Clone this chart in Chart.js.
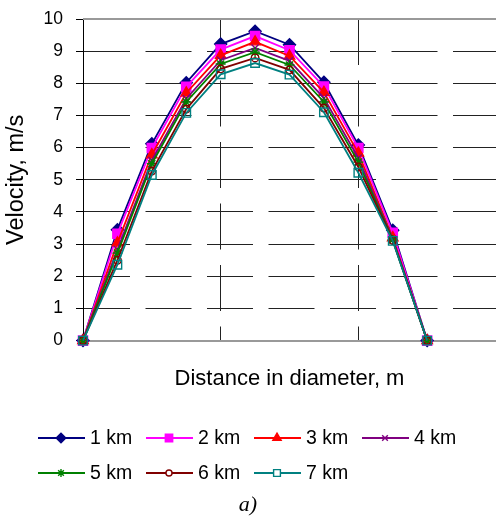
<!DOCTYPE html>
<html>
<head>
<meta charset="utf-8">
<script src="https://cdn.jsdelivr.net/npm/chart.js@4"></script>
<style>
  html, body { margin: 0; padding: 0; background: #fff; }
  #wrap { width: 496px; height: 519px; }
</style>
</head>
<body>
<div id="wrap"><canvas id="velChart" width="496" height="519"></canvas></div>
<script>
// points across the diameter (x axis runs 0..12, no labels)
const distance = [0, 1, 2, 3, 4, 5, 6, 7, 8, 9, 10];
const seriesNames = ['1 km', '2 km', '3 km', '4 km', '5 km', '6 km', '7 km'];

const vel1km = [0, 3.45, 6.12, 8.02, 9.22, 9.62, 9.20, 8.03, 6.08, 3.43, 0];
const vel2km = [0, 3.32, 5.99, 7.89, 9.05, 9.47, 9.03, 7.90, 5.99, 3.35, 0];
const vel3km = [0, 3.04, 5.78, 7.70, 8.87, 9.29, 8.85, 7.72, 5.83, 3.20, 0];
const vel4km = [0, 2.83, 5.60, 7.52, 8.72, 9.10, 8.70, 7.54, 5.68, 3.15, 0];
const vel5km = [0, 2.72, 5.50, 7.42, 8.60, 8.97, 8.57, 7.42, 5.55, 3.13, 0];
const vel6km = [0, 2.50, 5.27, 7.20, 8.45, 8.79, 8.42, 7.23, 5.40, 3.12, 0];
const vel7km = [0, 2.36, 5.15, 7.08, 8.28, 8.63, 8.27, 7.10, 5.22, 3.10, 0];

const allSeries = [vel1km, vel2km, vel3km, vel4km, vel5km, vel6km, vel7km];

// look of each series (Excel style markers)
const looks = [
  { color: '#000080', style: 'rectRot', radius: 6, fill: '#000080' },
  { color: '#FF00FF', style: 'rect', radius: 6.5, fill: '#FF00FF' },
  { color: '#FF0000', style: 'triangle', radius: 6, fill: '#FF0000' },
  { color: '#800080', style: 'crossRot', radius: 5, fill: '#800080' },
  { color: '#008000', style: 'star', radius: 5, fill: '#008000' },
  { color: '#800000', style: 'circle', radius: 3.8, fill: 'transparent' },
  { color: '#008080', style: 'rect', radius: 6, fill: 'transparent' }
];

const FONT = "'Liberation Sans', Arial, sans-serif";

const datasets = allSeries.map((vals, i) => ({
  label: seriesNames[i],
  data: distance.map((d, k) => ({ x: d, y: vals[k] })),
  borderColor: looks[i].color,
  borderWidth: 1.8,
  backgroundColor: looks[i].fill,
  pointStyle: looks[i].style,
  pointRadius: looks[i].radius,
  pointHoverRadius: looks[i].radius,
  pointBackgroundColor: looks[i].fill,
  pointBorderColor: looks[i].color,
  pointBorderWidth: 1.4,
  tension: 0,
  clip: false,
  order: 7 - i
}));

// top frame line + legend with line and marker + caption
const extras = {
  id: 'extras',
  afterDraw(chart) {
    const ctx = chart.ctx;
    const area = chart.chartArea;
    ctx.save();
    ctx.strokeStyle = '#999';
    ctx.lineWidth = 2;
    ctx.beginPath();
    ctx.moveTo(area.left, area.top);
    ctx.lineTo(area.right, area.top);
    ctx.stroke();

    chart.data.datasets.forEach((ds, i) => {
      const row = i < 4 ? 0 : 1;
      const col = i % 4;
      const x0 = 38 + col * 108;
      const y = row === 0 ? 438 : 473;
      ctx.strokeStyle = ds.borderColor;
      ctx.lineWidth = 1.8;
      ctx.beginPath();
      ctx.moveTo(x0, y);
      ctx.lineTo(x0 + 47, y);
      ctx.stroke();
      ctx.fillStyle = ds.pointBackgroundColor === 'transparent' ? '#fff' : ds.pointBackgroundColor;
      ctx.strokeStyle = ds.pointBorderColor;
      ctx.lineWidth = 1.4;
      Chart.helpers.drawPoint(ctx, {
        pointStyle: ds.pointStyle,
        radius: ds.pointRadius * 0.8,
        rotation: 0,
        borderWidth: 1.4
      }, x0 + 23, y);
      ctx.fillStyle = '#000';
      ctx.font = '19.5px ' + FONT;
      ctx.textAlign = 'left';
      ctx.textBaseline = 'middle';
      ctx.fillText(ds.label, x0 + 52, y + 1);
    });

    ctx.fillStyle = '#000';
    ctx.font = "italic 22px 'Liberation Serif', 'Times New Roman', serif";
    ctx.textAlign = 'center';
    ctx.textBaseline = 'middle';
    ctx.fillText('a)', 248, 505);
    ctx.restore();
  }
};

new Chart(document.getElementById('velChart'), {
  type: 'line',
  data: { datasets: datasets },
  plugins: [extras],
  options: {
    responsive: false,
    animation: false,
    layout: { autoPadding: false, padding: { top: 19, right: 0, bottom: 127, left: 0 } },
    plugins: {
      legend: { display: false },
      tooltip: { enabled: false }
    },
    scales: {
      x: {
        type: 'linear',
        min: 0,
        max: 12,
        ticks: { display: false, stepSize: 4 },
        grid: {
          drawTicks: false,
          color: c => (c.tick && (c.tick.value === 0 || c.tick.value === 12)) ? 'transparent' : '#222',
          lineWidth: 1
        },
        border: { display: true, color: '#999', width: 2, dash: [46, 15.5] },
        title: {
          display: true,
          text: 'Distance in diameter, m',
          color: '#000',
          font: { family: FONT, size: 22 },
          padding: { top: 25, bottom: 0 }
        }
      },
      y: {
        min: 0,
        max: 10,
        afterFit: s => { s.width = 83; s.paddingTop = 0; s.paddingBottom = 0; },
        ticks: {
          stepSize: 1,
          color: '#000',
          padding: 13,
          font: { family: FONT, size: 17.5 }
        },
        grid: {
          tickLength: 7,
          tickColor: '#000',
          color: c => (c.tick && (c.tick.value === 0 || c.tick.value === 10)) ? 'transparent' : '#222',
          lineWidth: 1
        },
        border: { display: true, color: '#000', width: 1, dash: [46, 15.5] },
        title: {
          display: true,
          text: 'Velocity, m/s',
          color: '#000',
          font: { family: FONT, size: 23.5 },
          padding: { top: 2, bottom: 0 }
        }
      }
    }
  }
});
</script>
</body>
</html>
